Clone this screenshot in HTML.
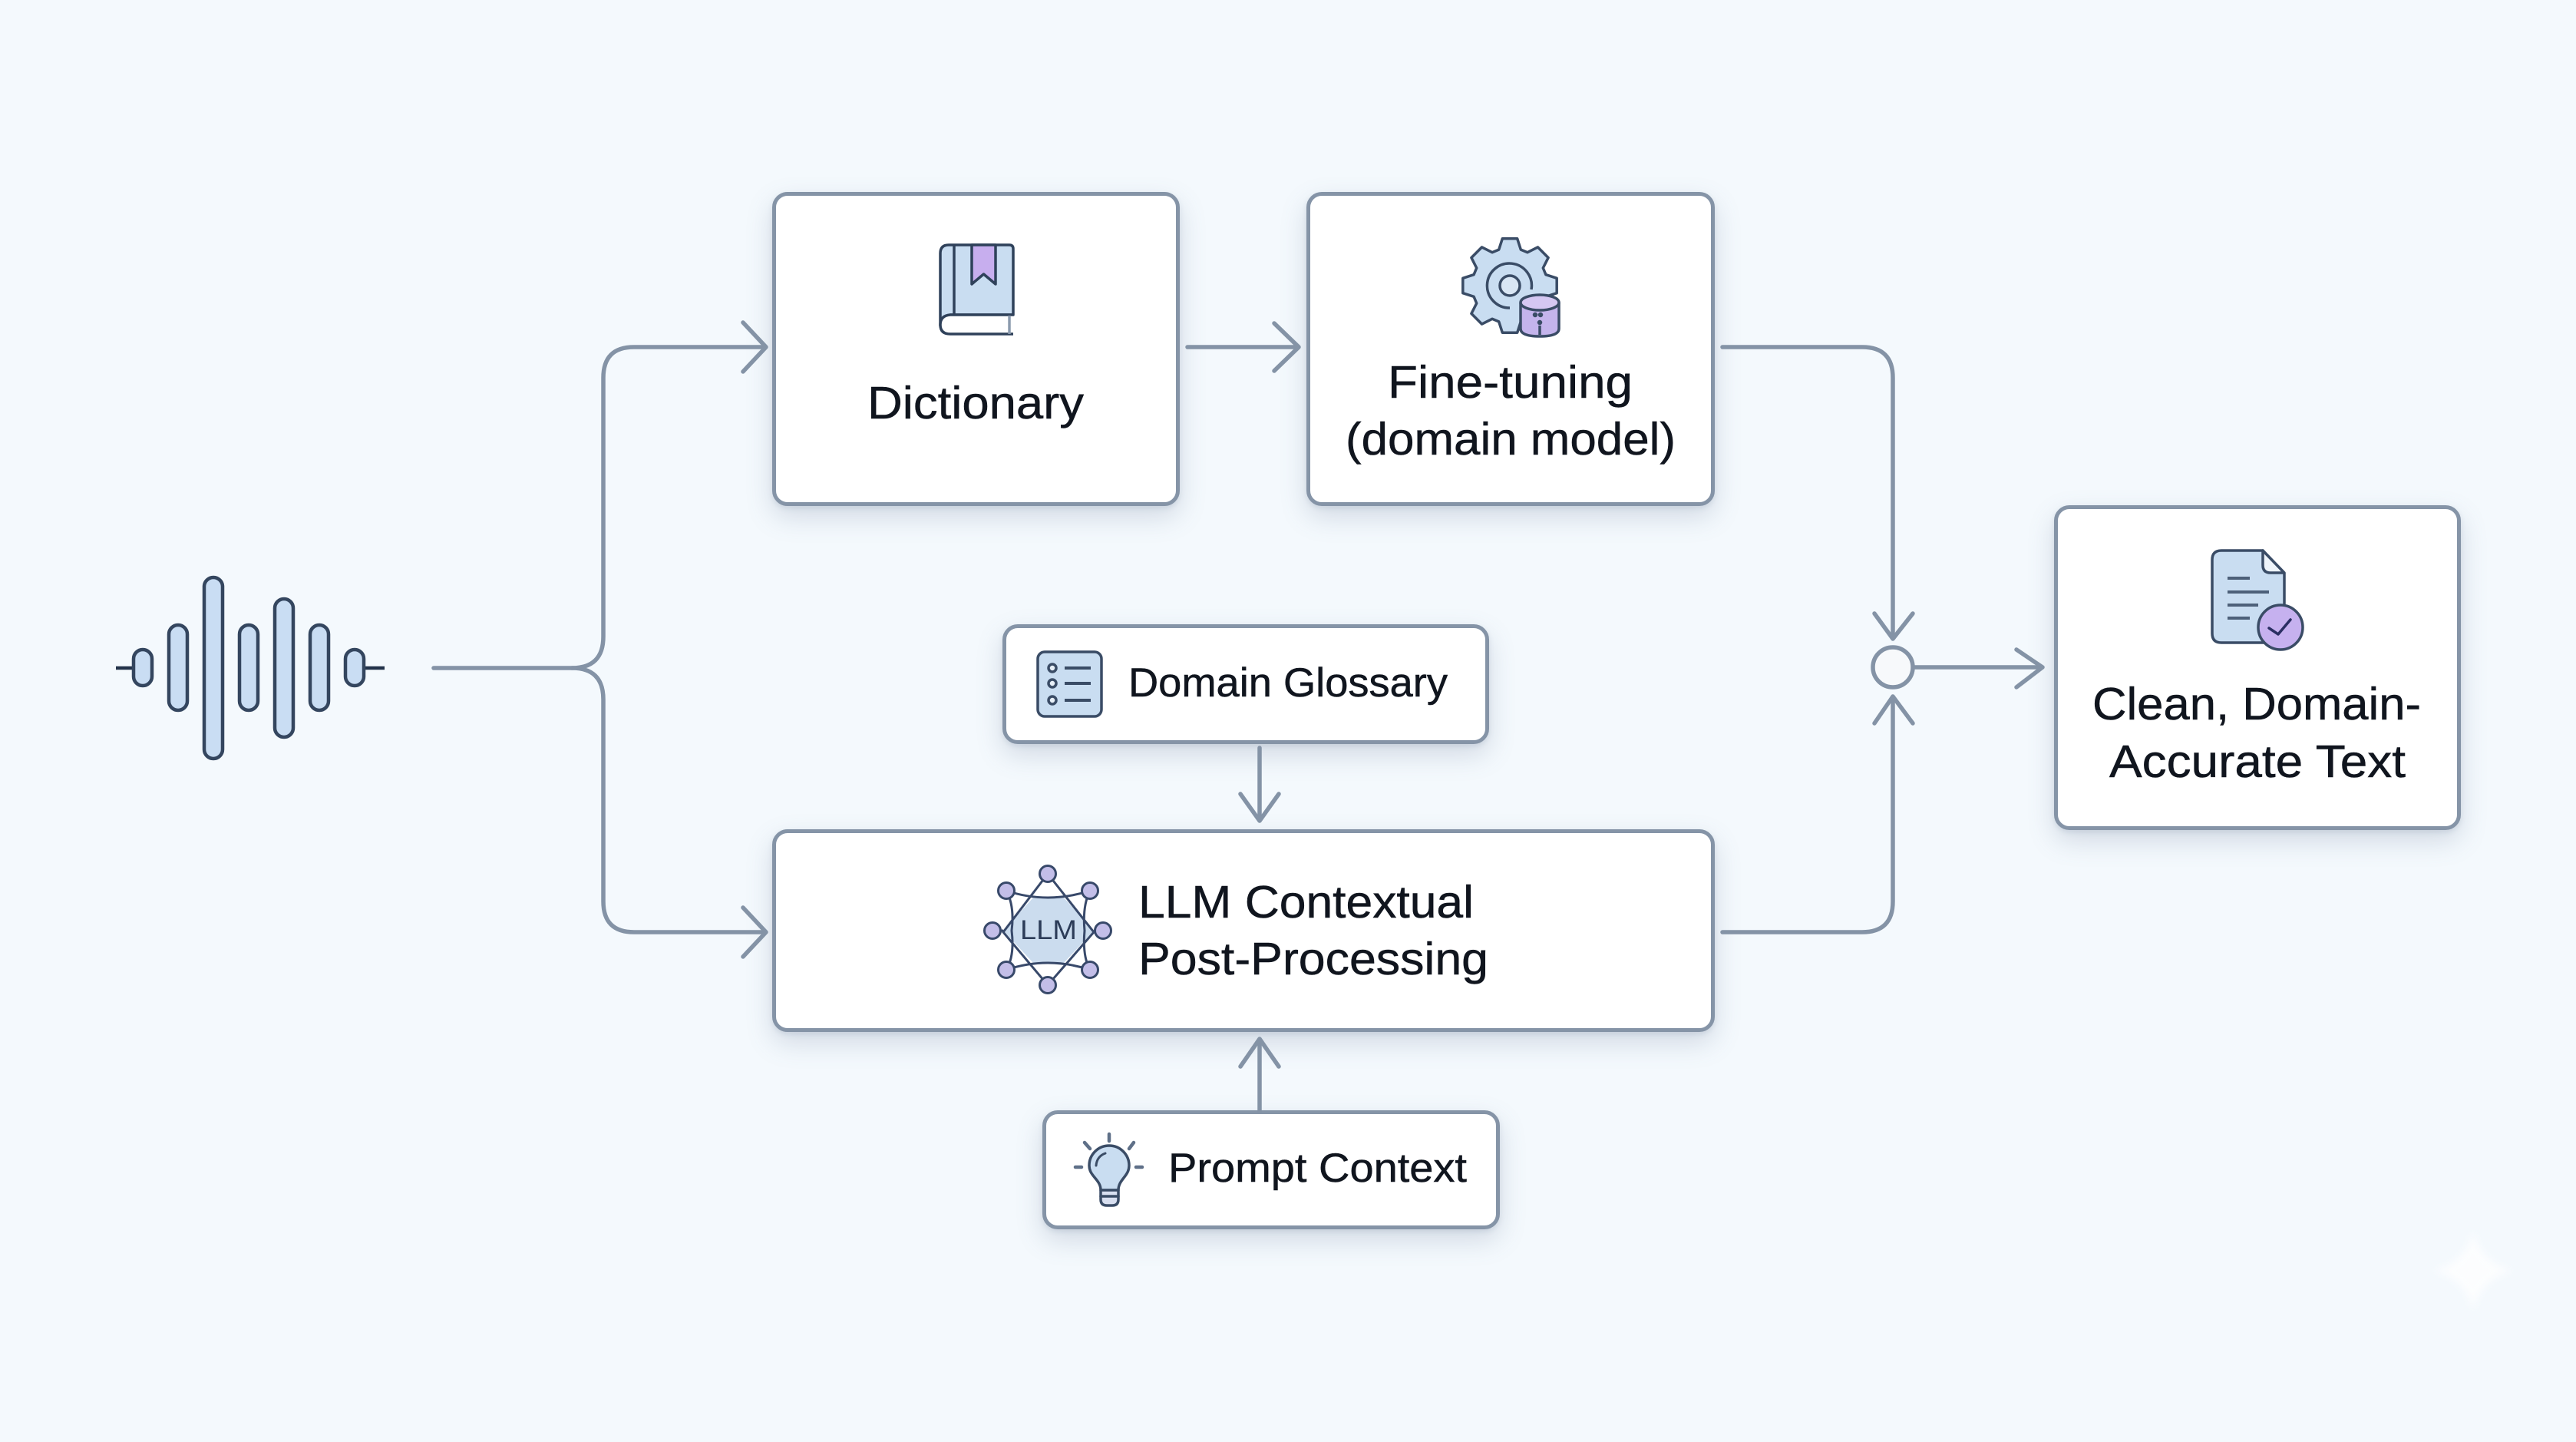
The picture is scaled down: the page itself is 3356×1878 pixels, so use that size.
<!DOCTYPE html>
<html lang="en">
<head>
<meta charset="utf-8">
<title>Domain-accurate transcription pipeline</title>
<style>
html,body{margin:0;padding:0;width:3356px;height:1878px;overflow:hidden;background:#f4f9fd}
.box{position:absolute;box-sizing:border-box;background:#fff;border:5px solid #8594a7;border-radius:20px;box-shadow:0 14px 34px rgba(90,110,140,.22),0 3px 7px rgba(90,110,140,.14)}
svg{position:absolute;left:0;top:0}
text{font-family:"Liberation Sans",sans-serif;fill:#10151e;stroke:#10151e;stroke-width:.5px}
</style>
</head>
<body>
<div class="box" style="left:1006px;top:250px;width:531px;height:409px"></div>
<div class="box" style="left:1702px;top:250px;width:532px;height:409px"></div>
<div class="box" style="left:1306px;top:813px;width:634px;height:156px"></div>
<div class="box" style="left:1006px;top:1080px;width:1228px;height:264px"></div>
<div class="box" style="left:1358px;top:1446px;width:596px;height:155px"></div>
<div class="box" style="left:2676px;top:658px;width:530px;height:423px"></div>

<svg width="3356" height="1878" viewBox="0 0 3356 1878" xmlns="http://www.w3.org/2000/svg">
<defs><filter id="soft"><feGaussianBlur stdDeviation="5"/></filter></defs>

<!-- watermark -->
<path d="M3222 1603 Q3232 1645 3274 1655 Q3232 1665 3222 1707 Q3212 1665 3170 1655 Q3212 1645 3222 1603Z" fill="#fff" opacity=".75" filter="url(#soft)"/>

<!-- connectors -->
<g fill="none" stroke="#8493a6" stroke-width="5.5" stroke-linecap="round" stroke-linejoin="round">
  <path d="M565 870H745Q786 870 786 829V492Q786 452 826 452H994"/>
  <path d="M745 870Q786 870 786 911V1174Q786 1214 826 1214H994"/>
  <path d="M968 420L998 452L968 484"/>
  <path d="M968 1182L998 1214L968 1246"/>
  <path d="M1547 452H1689"/>
  <path d="M1660 421L1692 452L1660 483"/>
  <path d="M2244 452H2426Q2466 452 2466 492V828"/>
  <path d="M2442 799L2466 832L2492 799"/>
  <path d="M2244 1214H2426Q2466 1214 2466 1174V911"/>
  <path d="M2442 942L2466 907L2492 942"/>
  <circle cx="2466" cy="869" r="26" fill="#f7f9fb"/>
  <path d="M2493 869H2658"/>
  <path d="M2627 846L2661 869L2627 895"/>
  <path d="M1641 974V1066"/>
  <path d="M1616 1034L1641 1069L1666 1034"/>
  <path d="M1641 1447V1356"/>
  <path d="M1616 1389L1641 1353L1666 1389"/>
</g>

<!-- waveform -->
<g fill="#c9ddf3" stroke="#34465f" stroke-width="4.5">
  <path d="M151 870H173M476 870H501" fill="none" stroke="#22324a"/>
  <rect x="174" y="846" width="24" height="47" rx="12"/>
  <rect x="220" y="814" width="24" height="111" rx="12"/>
  <rect x="266" y="752" width="24" height="236" rx="12"/>
  <rect x="312" y="814" width="24" height="111" rx="12"/>
  <rect x="358" y="780" width="24" height="180" rx="12"/>
  <rect x="404" y="814" width="24" height="111" rx="12"/>
  <rect x="450" y="846" width="24" height="47" rx="12"/>
</g>

<!-- book icon -->
<g stroke="#2f415a" stroke-width="3.5" stroke-linejoin="round">
  <path d="M1236 319H1315Q1320 319 1320 324V410H1238Q1225 412 1225 424V330Q1225 319 1236 319Z" fill="#c9ddf1"/>
  <path d="M1243 319V410" fill="none"/>
  <path d="M1266 319H1297V370L1281.500 357L1266 370Z" fill="#c7aeee"/>
  <path d="M1320 410H1238Q1225 411 1225 423Q1225 435 1238 435H1320" fill="#fff"/>
  <path d="M1315 411V435" fill="none" stroke="#8b9aad"/>
</g>

<!-- gear icon -->
<g transform="translate(1967 372)" stroke="#3a4c66" stroke-width="3.5" stroke-linejoin="round">
  <polygon fill="#c9ddf1" points="46.9,-14.3 61.2,-9.7 61.2,9.7 46.9,14.3 43.3,23 50.1,36.4 36.4,50.1 23,43.3 14.3,46.9 9.7,61.2 -9.7,61.2 -14.3,46.9 -23,43.3 -36.4,50.1 -50.1,36.4 -43.3,23 -46.9,14.3 -61.2,9.7 -61.200,-9.7 -46.9,-14.3 -43.3,-23 -50.1,-36.4 -36.4,-50.1 -23,-43.3 -14.3,-46.9 -9.7,-61.2 9.7,-61.2 14.3,-46.9 23,-43.3 36.4,-50.1 50.1,-36.4 43.3,-23"/>
  <path d="M28 5A29 29 0 1 0 0 29" fill="none"/>
  <circle cx="0" cy="0" r="13" fill="#d9e6f4"/>
</g>
<g stroke="#3a4c66" stroke-width="3.500">
  <path d="M1981 394V428Q1981 438 2006 438Q2031 438 2031 428V394" fill="#c4b4ec"/>
  <ellipse cx="2006" cy="394" rx="25" ry="10" fill="#d5c7f2"/>
  <path d="M2006 424V436" fill="none"/>
  <circle cx="2000" cy="410" r="1.500" fill="#2f415a"/>
  <circle cx="2007" cy="410" r="1.500" fill="#2f415a"/>
  <circle cx="2006" cy="420" r="1.500" fill="#2f415a"/>
</g>

<!-- glossary icon -->
<g stroke="#3a4c66" stroke-width="3.500">
  <rect x="1352" y="849" width="83" height="84" rx="9" fill="#c9ddf1"/>
  <circle cx="1371" cy="870" r="5" fill="#e8f0f8"/>
  <circle cx="1371" cy="890" r="5" fill="#e8f0f8"/>
  <circle cx="1371" cy="912" r="5" fill="#e8f0f8"/>
  <path d="M1387 870H1421M1387 890H1421M1387 912H1421" stroke-width="4" fill="none"/>
</g>

<!-- LLM icon -->
<g stroke="#38496a" stroke-width="3">
  <polygon points="1347,1168 1385,1168 1425,1212 1385,1255 1347,1255 1307,1212" fill="#cbdcee" stroke="none"/>
  <path d="M1365 1138L1307 1214L1365 1283L1425 1214Z" fill="none"/>
  <path d="M1293 1212H1307M1425 1212H1437" fill="none"/>
  <path d="M1311 1160Q1365 1178 1420 1160M1311 1263Q1365 1245 1420 1263" fill="none"/>
  <path d="M1311 1160Q1322 1180 1318 1212Q1322 1245 1311 1263M1420 1160Q1410 1180 1413 1212Q1410 1245 1420 1263" fill="none"/>
  <g fill="#c3bee8">
    <circle cx="1365" cy="1138" r="10.500"/>
    <circle cx="1365" cy="1283" r="10.500"/>
    <circle cx="1293" cy="1212" r="10.500"/>
    <circle cx="1437" cy="1212" r="10.500"/>
    <circle cx="1311" cy="1160" r="10.500"/>
    <circle cx="1420" cy="1160" r="10.500"/>
    <circle cx="1311" cy="1263" r="10.500"/>
    <circle cx="1420" cy="1263" r="10.500"/>
  </g>
</g>
<text x="1329" y="1223" font-size="35" textLength="74" lengthAdjust="spacingAndGlyphs" style="fill:#2c3c58;stroke:none">LLM</text>

<!-- bulb icon -->
<g stroke="#3a4c66" stroke-width="3.500" stroke-linecap="round" stroke-linejoin="round">
  <path d="M1434 1550C1434 1536 1419 1532 1419 1518A26 26 0 0 1 1471 1518C1471 1532 1457 1536 1457 1550Z" fill="#c9ddf1"/>
  <path d="M1434 1550H1457V1562Q1457 1570 1449 1570H1442Q1434 1570 1434 1562Z" fill="#d8dff0"/>
  <path d="M1434 1558H1457" fill="none"/>
  <path d="M1428 1518Q1429 1506 1440 1502" fill="none" stroke-width="3"/>
  <path d="M1445 1477V1486M1413 1488L1420 1496M1477 1488L1471 1496M1401 1520H1409M1480 1520H1488" fill="none" stroke="#5f7088" stroke-width="4.500"/>
</g>

<!-- document icon -->
<g stroke="#3a4c66" stroke-width="3.500" stroke-linejoin="round">
  <path d="M2894 717H2948L2976 747V825Q2976 837 2964 837H2894Q2882 837 2882 825V729Q2882 717 2894 717Z" fill="#c9ddf1"/>
  <path d="M2948 717V736Q2948 746 2958 746H2976Z" fill="#eef4fa"/>
  <path d="M2902 753H2931M2902 771H2956M2902 788H2942M2902 805H2931" fill="none" stroke-width="4" stroke="#4d6079"/>
  <circle cx="2971" cy="817" r="29" fill="#c6b1ef"/>
  <path d="M2956 818L2968 826L2984 807" fill="none" stroke="#2b2f63" stroke-linecap="round"/>
</g>

<!-- labels -->
<text x="1130" y="545" font-size="59" textLength="282" lengthAdjust="spacingAndGlyphs">Dictionary</text>
<text x="1808" y="518" font-size="59" textLength="319" lengthAdjust="spacingAndGlyphs">Fine-tuning</text>
<text x="1753" y="592" font-size="59" textLength="430" lengthAdjust="spacingAndGlyphs">(domain model)</text>
<text x="1470" y="907" font-size="53" textLength="416" lengthAdjust="spacingAndGlyphs">Domain Glossary</text>
<text x="1483" y="1195" font-size="59" textLength="437" lengthAdjust="spacingAndGlyphs">LLM Contextual</text>
<text x="1483" y="1269" font-size="59" textLength="456" lengthAdjust="spacingAndGlyphs">Post-Processing</text>
<text x="1522" y="1539" font-size="53" textLength="389" lengthAdjust="spacingAndGlyphs">Prompt Context</text>
<text x="2726" y="937" font-size="59" textLength="428" lengthAdjust="spacingAndGlyphs">Clean, Domain-</text>
<text x="2748" y="1012" font-size="59" textLength="386" lengthAdjust="spacingAndGlyphs">Accurate Text</text>
</svg>
</body>
</html>
